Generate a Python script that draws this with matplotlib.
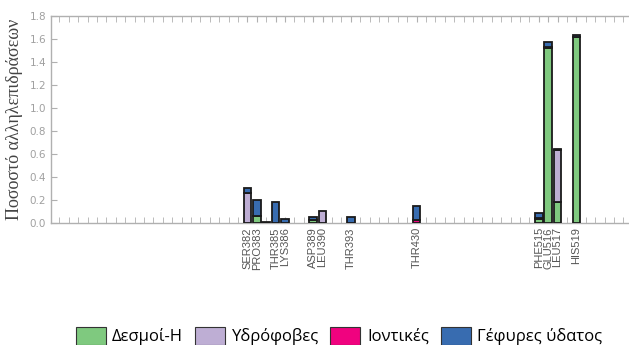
import matplotlib
matplotlib.use("Agg")
import matplotlib.pyplot as plt
from matplotlib.patches import Patch
import numpy as np

# Residue positions along the contact axis and their labels
positions = [0, 1, 2, 3, 4, 7, 8, 11, 18, 31, 32, 33, 35]
residues = ["SER382", "PRO383", "", "THR385", "LYS386", "ASP389", "LEU390",
            "THR393", "THR430", "PHE515", "GLU516", "LEU517", "HIS519"]

# Interaction fractions per residue (stacked in this order)
hbond       = [0.00, 0.065, 0.00, 0.00, 0.00, 0.025, 0.00, 0.00, 0.00, 0.035, 1.52, 0.185, 1.615]
hydrophobic = [0.26, 0.00, 0.00, 0.00, 0.00, 0.00, 0.107, 0.00, 0.00, 0.00, 0.00, 0.45, 0.00]
ionic       = [0.00, 0.00, 0.00, 0.00, 0.00, 0.00, 0.00, 0.00, 0.03, 0.005, 0.012, 0.00, 0.00]
water       = [0.047, 0.135, 0.012, 0.183, 0.032, 0.03, 0.00, 0.052, 0.118, 0.05, 0.04, 0.008, 0.02]

series = [hbond, hydrophobic, ionic, water]
names = ["Δεσμοί-H", "Υδρόφοβες", "Ιοντικές", "Γέφυρες ύδατος"]
colors = ["#7fc97f", "#beaed4", "#f0027f", "#386cb0"]

fig = plt.figure(figsize=(6.29, 3.45), dpi=100)
ax = fig.add_axes([51 / 629, 1 - 223 / 345, 578 / 629, 207 / 345])

bottom = np.zeros(len(positions))
for vals, col in zip(series, colors):
    v = np.array(vals)
    mask = v > 0
    ax.bar(np.array(positions)[mask], v[mask], width=0.8, bottom=bottom[mask],
           color=col, edgecolor="#1a1a1a", linewidth=1.3, zorder=3)
    bottom += v

ax.set_xlim(-20.9, 40.6)
ax.set_ylim(0, 1.8)

spine_col = "#b0b0b0"
for side in ["left", "top", "bottom"]:
    ax.spines[side].set_color(spine_col)
    ax.spines[side].set_linewidth(1.0)
ax.spines["right"].set_visible(False)

ax.set_yticks(np.arange(0, 1.81, 0.2))
ax.set_yticklabels([f"{t:.1f}" for t in np.arange(0, 1.81, 0.2)])
ax.tick_params(axis="y", direction="in", length=4, color=spine_col,
               labelcolor="#a0a0a0", labelsize=7.5, right=False)

lab_pos = [p for p, r in zip(positions, residues) if r]
lab_txt = [r for r in residues if r]
ax.set_xticks(lab_pos)
ax.set_xticklabels(lab_txt, rotation=90, fontsize=8.0, color="#555555",
                   family="Liberation Sans")
ax.set_xticks(np.arange(-20, 41, 1), minor=True)
ax.tick_params(axis="x", which="both", direction="in", length=4, color=spine_col,
               top=True, bottom=True, pad=3)

ax.set_ylabel("Ποσοστό αλληλεπιδράσεων", family="Liberation Serif",
              fontsize=13, color="#444444", labelpad=5)

handles = [Patch(facecolor=c, edgecolor="#333333", linewidth=0.8) for c in colors]
fig.legend(handles, names, loc="center", bbox_to_anchor=(339 / 629, 1 - 336 / 345),
           ncol=4, frameon=False, prop={"family": "Open Sans", "size": 12},
           handlelength=1.8, handleheight=1.3, handletextpad=0.4, columnspacing=0.7)

fig.savefig("out.png", dpi=100)
